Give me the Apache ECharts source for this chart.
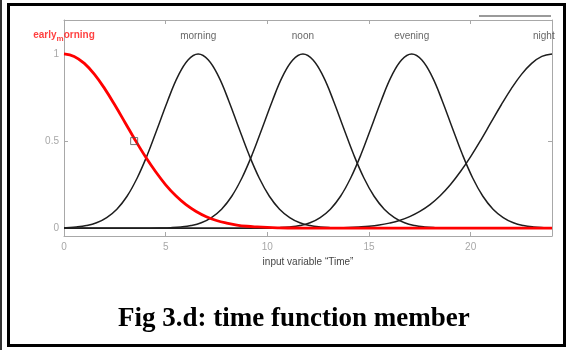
<!DOCTYPE html>
<html>
<head>
<meta charset="utf-8">
<script src="https://cdn.jsdelivr.net/npm/echarts@6/dist/echarts.min.js"></script>
<style>
html,body{margin:0;padding:0;background:#fff;}
#chart{width:569px;height:350px;}
</style>
</head>
<body>
<div id="chart"></div>
<script>
// ---- data ----
const earlyTime = [0,0.5,1,1.5,2,2.5,3,3.5,4,4.5,5,5.5,6,6.5,7,7.5,8,8.5,9,9.5,10,10.5,11,11.5,12,12.5,13,16,20,24];
const earlyValue = [1,0.986,0.946,0.883,0.801,0.707,0.607,0.506,0.411,0.325,0.249,0.186,0.135,0.096,0.066,0.044,0.029,0.018,0.011,0.007,0.004,0.002,0.001,0.001,0,0,0,0,0,0];

const morningTime = [0,0.1,0.6,1.1,1.6,2.1,2.6,3.1,3.6,4.1,4.6,5.1,5.6,6.1,6.6,7.1,7.6,8.1,8.6,9.1,9.6,10.1,10.6,11.1,11.6,12.1,12.6,13.1,13.6,14.1,14.6,15.1,16,18,20,22,24];
const morningValue = [0.002,0.003,0.007,0.015,0.031,0.061,0.109,0.183,0.288,0.421,0.575,0.732,0.871,0.966,1,0.966,0.871,0.732,0.575,0.421,0.288,0.183,0.109,0.061,0.031,0.015,0.007,0.003,0.001,0,0,0,0,0,0,0,0];

const noonTime = [0,2,3.25,3.75,4.25,4.75,5.25,5.75,6.25,6.75,7.25,7.75,8.25,8.75,9.25,9.75,10.25,10.75,11.25,11.75,12.25,12.75,13.25,13.75,14.25,14.75,15.25,15.75,16.25,16.75,17.25,17.75,18.25,18.75,19.25,19.75,20.25,22,24];
const noonValue = [0,0,0,0,0,0.001,0.003,0.007,0.015,0.031,0.061,0.109,0.183,0.288,0.421,0.575,0.732,0.871,0.966,1,0.966,0.871,0.732,0.575,0.421,0.288,0.183,0.109,0.061,0.031,0.015,0.007,0.003,0.001,0,0,0,0,0];

const eveningTime = [0,4,7,8.6,9.1,9.6,10.1,10.6,11.1,11.6,12.1,12.6,13.1,13.6,14.1,14.6,15.1,15.6,16.1,16.6,17.1,17.6,18.1,18.6,19.1,19.6,20.1,20.6,21.1,21.6,22.1,22.6,23.1,23.6,24];
const eveningValue = [0,0,0,0,0,0,0.001,0.003,0.007,0.015,0.031,0.061,0.109,0.183,0.288,0.421,0.575,0.732,0.871,0.966,1,0.966,0.871,0.732,0.575,0.421,0.288,0.183,0.109,0.061,0.031,0.015,0.007,0.003,0.001];

const nightTime = [0,8,11,11.5,12,12.5,13,13.5,14,14.5,15,15.5,16,16.5,17,17.5,18,18.5,19,19.5,20,20.5,21,21.5,22,22.5,23,23.5,24];
const nightValue = [0,0,0,0,0,0.001,0.001,0.002,0.004,0.007,0.011,0.018,0.029,0.044,0.066,0.096,0.135,0.186,0.249,0.325,0.411,0.506,0.607,0.707,0.801,0.883,0.946,0.986,1];

const mfNames = ['early_morning','morning','noon','evening','night'];
const mfLabelX = [0, 6.6, 11.75, 17.1, 23.6];
const mfLabelY = [1.1, 1.1, 1.1, 1.1, 1.1];
const markerPoint = [3.45, 0.5];

const xTicks = [0, 5, 10, 15, 20];
const yTicks = [0, 0.5, 1];
const xAxisName = 'input variable \u201cTime\u201d';
const caption = 'Fig 3.d: time function member';

// ---- chart ----
const pairs = (xs, ys) => xs.map((x, i) => [x, ys[i]]);
const FONT = '"Liberation Sans", Arial, sans-serif';
const AX = '#a8a8a8';
const chart = echarts.init(document.getElementById('chart'), null, {renderer: 'canvas'});

function curve(name, xs, ys, color, width, z) {
  return {
    name, type: 'line', data: pairs(xs, ys), smooth: 0.4, showSymbol: false, symbol: 'none',
    lineStyle: {color, width}, z, silent: true
  };
}

chart.setOption({
  animation: false,
  backgroundColor: '#fff',
  grid: {left: 64, right: 17, top: 20, bottom: 114, containLabel: false},
  xAxis: [{
    type: 'value', min: 0, max: 24, interval: 5, position: 'bottom',
    axisLine: {show: true, onZero: false, lineStyle: {color: AX, width: 1}},
    axisTick: {show: true, inside: true, length: 4, lineStyle: {color: AX}, customValues: xTicks},
    axisLabel: {color: '#a8a8a8', fontSize: 10, fontFamily: FONT, margin: 6, customValues: xTicks},
    splitLine: {show: false},
    name: xAxisName, nameLocation: 'middle', nameGap: 20,
    nameTextStyle: {color: '#454545', fontSize: 10, fontFamily: FONT}
  }, {
    type: 'value', min: 0, max: 24, interval: 5, position: 'top',
    axisLine: {show: true, onZero: false, lineStyle: {color: AX, width: 1}},
    axisTick: {show: true, inside: true, length: 4, lineStyle: {color: AX}, customValues: xTicks},
    axisLabel: {show: false}, splitLine: {show: false}
  }],
  yAxis: [{
    type: 'value', min: -0.045, max: 1.195, position: 'left',
    axisLine: {show: true, onZero: false, lineStyle: {color: AX, width: 1}},
    axisTick: {show: true, inside: true, length: 4, lineStyle: {color: AX}, customValues: yTicks},
    axisLabel: {color: '#a8a8a8', fontSize: 10, fontFamily: FONT, margin: 5, customValues: yTicks},
    splitLine: {show: false}
  }, {
    type: 'value', min: -0.045, max: 1.195, position: 'right',
    axisLine: {show: true, onZero: false, lineStyle: {color: AX, width: 1}},
    axisTick: {show: true, inside: true, length: 4, lineStyle: {color: AX}, customValues: yTicks},
    axisLabel: {show: false}, splitLine: {show: false}
  }],
  series: [
    curve(mfNames[1], morningTime, morningValue, '#1e1e1e', 1.5, 2),
    curve(mfNames[2], noonTime, noonValue, '#1e1e1e', 1.5, 2),
    curve(mfNames[3], eveningTime, eveningValue, '#1e1e1e', 1.5, 2),
    curve(mfNames[4], nightTime, nightValue, '#1e1e1e', 1.5, 2),
    curve(mfNames[0], earlyTime, earlyValue, '#ff0000', 2.8, 3),
    {
      type: 'scatter', data: [markerPoint], symbol: 'rect', symbolSize: 7, z: 4, silent: true,
      itemStyle: {color: 'rgba(0,0,0,0)', borderColor: '#555', borderWidth: 1}
    },
    {
      type: 'scatter', symbolSize: 0, z: 5, silent: true,
      data: mfNames.map((n, i) => ({
        value: [mfLabelX[i], mfLabelY[i]],
        label: i === 0 ? {
          show: true, position: 'inside',
          formatter: '{b|' + n.split('_')[0] + '}{s|' + n.split('_')[1].charAt(0) + '}{b|' + n.split('_')[1].slice(1) + '}',
          rich: {
            b: {color: '#ff1010', fontWeight: 'bold', fontSize: 10, fontFamily: FONT, verticalAlign: 'top', lineHeight: 12},
            s: {color: '#ff1010', fontWeight: 'bold', fontSize: 8, fontFamily: FONT, verticalAlign: 'bottom', lineHeight: 12, padding: [5, 0, 0, 0]}
          }
        } : {
          show: true, position: 'inside', formatter: n,
          color: '#404040', fontSize: 10, fontFamily: FONT
        }
      }))
    }
  ],
  graphic: [
    {type: 'rect', shape: {x: 8.5, y: 4.5, width: 556, height: 341}, style: {fill: 'none', stroke: '#000', lineWidth: 3}, silent: true},
    {type: 'line', shape: {x1: 1, y1: 0, x2: 1, y2: 350}, style: {stroke: '#333', lineWidth: 2}, silent: true},
    {type: 'line', shape: {x1: 479, y1: 16, x2: 551, y2: 16}, style: {stroke: '#9a9a9a', lineWidth: 2}, silent: true},
    {type: 'text', left: 118, top: 306, style: {text: caption, fill: '#000', font: 'bold 27px "Liberation Serif", "Times New Roman", serif'}, silent: true}
  ]
});
</script>
</body>
</html>
